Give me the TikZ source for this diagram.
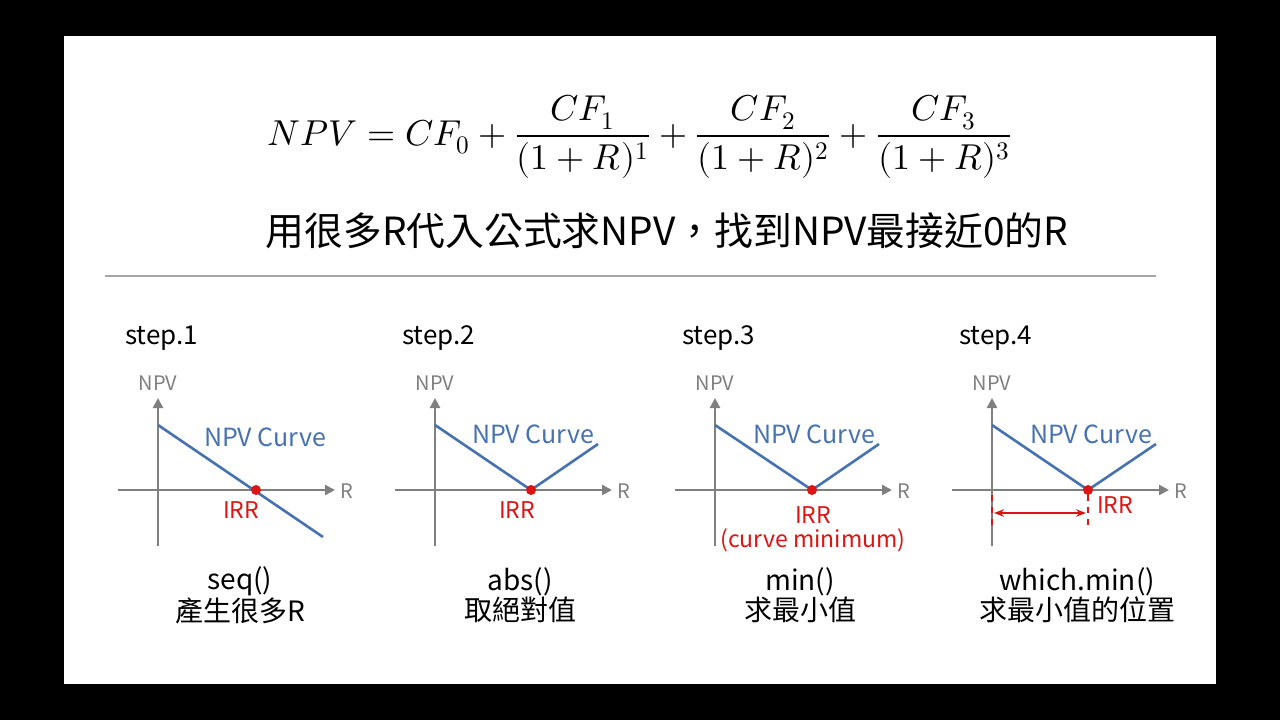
\documentclass[tikz,border=0pt]{standalone}
\usepackage{fontspec}
\setmainfont{Noto Sans CJK TC}
\usepackage{unicode-math}
\setmathfont{Latin Modern Math}
\usetikzlibrary{arrows.meta}
\definecolor{ax}{RGB}{127,127,127}
\definecolor{cb}{RGB}{70,114,176}
\definecolor{rd}{RGB}{220,20,20}
\begin{document}
\begin{tikzpicture}[x=0.5pt,y=-0.5pt,
  axis/.style={ax,line width=1.2pt,-{Triangle[length=5pt,width=5pt]}},
  curve/.style={cb,line width=1.3pt},
  lbl/.style={ax,font=\fontsize{10}{12}\selectfont},
  cl/.style={cb,font=\fontsize{12.5}{14}\selectfont},
  irr/.style={rd,font=\fontsize{11.5}{12}\selectfont},
  stp/.style={font=\fontsize{13}{15}\selectfont},
  bt/.style={font=\fontsize{14}{15}\selectfont,align=center}]
\fill[black] (0,0) rectangle (1280,720);
\fill[white] (64,36) rectangle (1216,684);
\node (f) at (640,137) {\fontsize{18}{22}\selectfont $NPV=CF_0+\dfrac{CF_1}{(1+R)^1}+\dfrac{CF_2}{(1+R)^2}+\dfrac{CF_3}{(1+R)^3}$};
\node (t) at (667,231) {\fontsize{19.4}{22}\selectfont 用很多R代入公式求NPV，找到NPV最接近0的R};
\draw[ax!70,line width=0.8pt] (105,276) -- (1156,276);
\foreach \ox/\s/\a/\b [count=\i] in {0/1/seq()/產生很多R, 277/2/abs()/取絕對值, 557/3/min()/求最小值, 834/4/which.min()/求最小值的位置}{
  \node[stp,anchor=west] (s\i) at (118+\ox,338) {step.\s};
  \draw[axis] (158+\ox,546) -- (158+\ox,398);
  \draw[axis] (118+\ox,490) -- (335+\ox,490);
  \node[lbl] (n\i) at (158+\ox,383) {NPV};
  \node[lbl] (r\i) at (347+\ox,491) {R};
  \node[bt] (b\i) at (240+\ox-\ifnum\i>1 -3\else 0\fi,595) {\a\\\b};
}
\draw[curve] (158,425) -- (323,537);
\fill[rd] (256,490) circle (5);
\node[irr] at (241,510) {IRR};
\node[cl] at (265,437) {NPV Curve};
\draw[curve] (435,425) -- (531,490) -- (598,444);
\fill[rd] (531,490) circle (5);
\node[irr] at (517,510) {IRR};
\node[cl] at (533,434) {NPV Curve};
\draw[curve] (715,425) -- (812,490) -- (879,444);
\fill[rd] (812,490) circle (5);
\node[irr,align=center] at (813,529) {IRR\\(curve minimum)};
\node[cl] at (814,434) {NPV Curve};
\draw[curve] (992,425) -- (1088,490) -- (1156,444);
\fill[rd] (1088,490) circle (5);
\node[irr] at (1115,505) {IRR};
\node[cl] at (1091,434) {NPV Curve};
\draw[rd,dashed,line width=0.8pt] (992,495) -- (992,526);
\draw[rd,dashed,line width=0.8pt] (1088,495) -- (1088,526);
\draw[rd,line width=1pt,{Stealth[length=5pt]}-{Stealth[length=5pt]}] (994,513) -- (1086,513);
\end{tikzpicture}
\end{document}
